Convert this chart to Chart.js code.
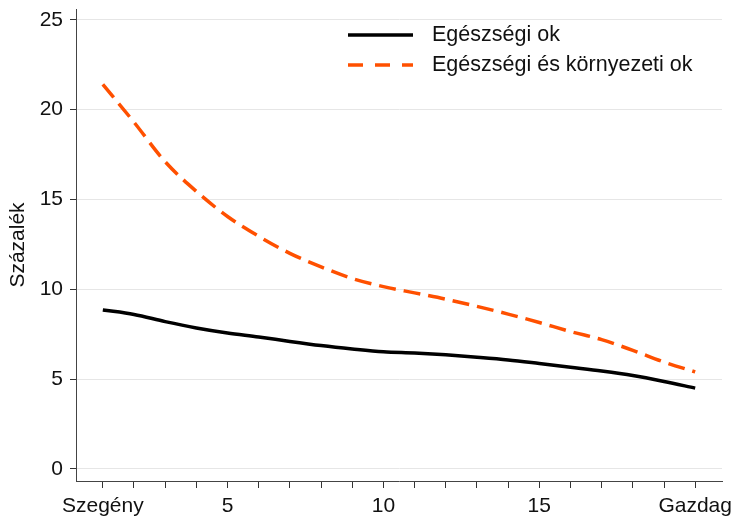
<!DOCTYPE html>
<html lang="hu">
<head>
<meta charset="UTF-8">
<title>Százalék</title>
<script src="https://cdn.jsdelivr.net/npm/chart.js"></script>
<style>
    html, body { margin: 0; padding: 0; background: #fff; }
    #wrap { width: 734px; height: 520px; }
</style>
</head>
<body>
<div id="wrap"><canvas id="chart"></canvas></div>
<script>
    // adatok
    const deciles = [1, 2, 3, 4, 5, 6, 7, 8, 9, 10, 11, 12, 13, 14, 15, 16, 17, 18, 19, 20];
    const egeszsegi = [8.85, 8.6, 8.2, 7.85, 7.57, 7.35, 7.1, 6.87, 6.68, 6.52, 6.45, 6.35, 6.22, 6.07, 5.87, 5.66, 5.45, 5.2, 4.87, 4.5];
    const kornyezeti = [21.4, 19.3, 17.1, 15.45, 14.05, 12.95, 12.0, 11.25, 10.6, 10.15, 9.8, 9.45, 9.05, 8.62, 8.15, 7.65, 7.2, 6.6, 5.95, 5.4];
    const xTicks = [1, 2, 3, 4, 5, 6, 7, 8, 9, 10, 11, 12, 13, 14, 15, 16, 17, 18, 19, 20];
    const xLabels = {1: 'Szegény', 5: '5', 10: '10', 15: '15', 20: 'Gazdag'};
    const yTicks = [0, 5, 10, 15, 20, 25];

    const FONT = 'Arial, "Liberation Sans", sans-serif';

    // jelmagyarázat a rajzterületen belül, jobbra fent
    const insideLegend = {
        id: 'insideLegend',
        afterDatasetsDraw(chart) {
            const ctx = chart.ctx;
            const a = chart.chartArea;
            const x0 = a.left + 272;
            ctx.save();
            chart.data.datasets.forEach((ds, i) => {
                const y = a.top + 26 + i * 30;
                ctx.beginPath();
                ctx.strokeStyle = ds.borderColor;
                ctx.lineWidth = ds.borderWidth;
                ctx.setLineDash(ds.borderDash ? [15, 12] : []);
                ctx.moveTo(x0, y);
                ctx.lineTo(x0 + 65, y);
                ctx.stroke();
                ctx.setLineDash([]);
                ctx.fillStyle = '#111';
                ctx.font = '21.5px ' + FONT;
                ctx.textBaseline = 'middle';
                ctx.textAlign = 'left';
                ctx.fillText(ds.label, x0 + 84, y);
            });
            ctx.restore();
        }
    };

    new Chart(document.getElementById('chart'), {
        type: 'line',
        data: {
            datasets: [
                {
                    label: 'Egészségi ok',
                    data: deciles.map((d, i) => ({x: d, y: egeszsegi[i]})),
                    borderColor: '#000',
                    borderWidth: 3.5,
                    pointRadius: 0,
                    cubicInterpolationMode: 'monotone'
                },
                {
                    label: 'Egészségi és környezeti ok',
                    data: deciles.map((d, i) => ({x: d, y: kornyezeti[i]})),
                    borderColor: '#ff5000',
                    borderWidth: 3.5,
                    borderDash: [17, 8],
                    pointRadius: 0,
                    cubicInterpolationMode: 'monotone'
                }
            ]
        },
        options: {
            responsive: true,
            maintainAspectRatio: false,
            animation: false,
            layout: { padding: { top: 9, right: 12, left: 0, bottom: 0 } },
            plugins: {
                legend: { display: false },
                tooltip: { enabled: false }
            },
            scales: {
                x: {
                    type: 'linear',
                    min: 0.14,
                    max: 20.86,
                    afterBuildTicks: axis => { axis.ticks = xTicks.map(v => ({value: v})); },
                    afterFit: axis => {
                        axis.height = 39;
                        axis.paddingLeft = 0;
                        axis.paddingRight = 0;
                    },
                    ticks: {
                        autoSkip: false,
                        maxRotation: 0,
                        color: '#111',
                        padding: 6,
                        font: { size: 21, family: FONT },
                        callback: v => xLabels[v] || ''
                    },
                    grid: { drawOnChartArea: false, tickLength: 7, tickColor: '#333' },
                    border: { color: '#444', width: 1 }
                },
                y: {
                    min: -0.67,
                    max: 25.6,
                    afterBuildTicks: axis => { axis.ticks = yTicks.map(v => ({value: v})); },
                    afterFit: axis => {
                        axis.width = 76;
                        axis.paddingTop = 0;
                        axis.paddingBottom = 0;
                    },
                    title: {
                        display: true,
                        text: 'Százalék',
                        color: '#111',
                        font: { size: 21, family: FONT },
                        padding: { top: 6, bottom: 0 }
                    },
                    ticks: {
                        color: '#111',
                        padding: 7,
                        font: { size: 21, family: FONT }
                    },
                    grid: { color: '#e6e6e6', tickLength: 6, tickColor: '#333' },
                    border: { color: '#444', width: 1 }
                }
            }
        },
        plugins: [insideLegend]
    });
</script>
</body>
</html>
